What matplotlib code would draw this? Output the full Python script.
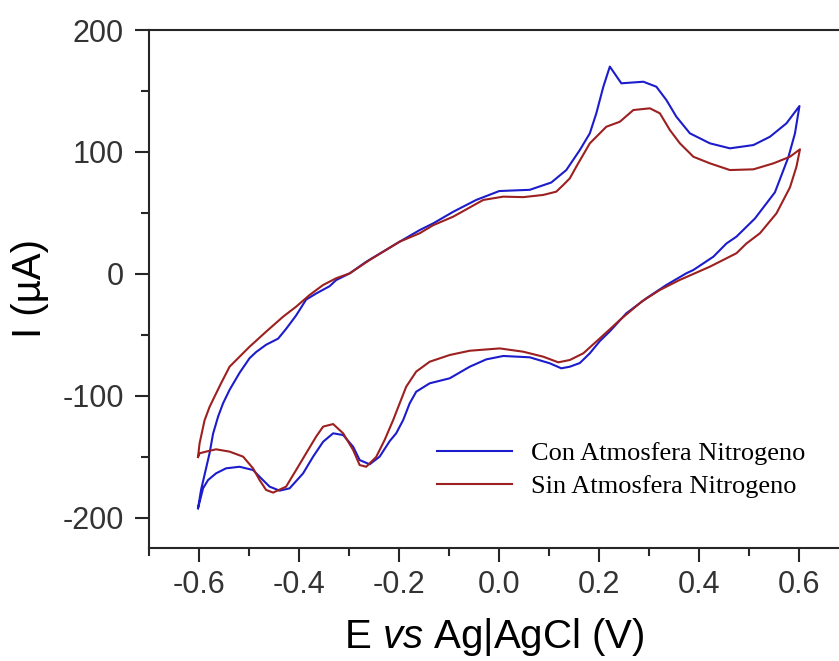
import matplotlib
matplotlib.use("Agg")
import matplotlib.pyplot as plt
from matplotlib.ticker import MultipleLocator, FormatStrFormatter

# =========================
# data
# =========================
# Con Atmosfera Nitrogeno: forward scan then reverse scan
con_E = [-0.602, -0.596, -0.579, -0.572, -0.562, -0.552, -0.539, -0.519, -0.499, -0.486,
         -0.466, -0.442, -0.426, -0.406, -0.386, -0.366, -0.339, -0.326, -0.299, -0.266,
         -0.199, -0.159, -0.132, -0.092, -0.046, 0.000, 0.061, 0.104, 0.134, 0.161,
         0.181, 0.194, 0.208, 0.221, 0.244, 0.288, 0.314, 0.334, 0.354, 0.381,
         0.421, 0.461, 0.508, 0.541, 0.574, 0.600,
         0.591, 0.578, 0.551, 0.511, 0.474, 0.454, 0.428, 0.388, 0.374, 0.334,
         0.294, 0.254, 0.221, 0.201, 0.181, 0.161, 0.141, 0.124, 0.101, 0.061,
         0.008, -0.026, -0.059, -0.099, -0.139, -0.166, -0.179, -0.192, -0.206, -0.219,
         -0.239, -0.259, -0.279, -0.292, -0.312, -0.332, -0.352, -0.372, -0.392, -0.419,
         -0.439, -0.459, -0.479, -0.492, -0.519, -0.546, -0.566, -0.582, -0.592, -0.602]
con_I = [-192, -177, -147, -131, -117, -106, -95, -81, -69, -64,
         -58, -53, -45, -34, -21, -16, -10, -5, 0.5, 10,
         26.5, 36, 41.5, 51, 60.7, 68, 69, 75, 85.2, 101.6,
         115.3, 131.7, 153.5, 170, 156.3, 157.6, 153.5, 142.6, 128.9, 115.3,
         107.1, 103, 105.7, 112.5, 123.5, 137.7,
         115.3, 96, 67, 45.5, 30.6, 25, 14.2, 3.3, 0.6, -9,
         -19.9, -32.2, -47, -55, -65, -73, -76, -77.3, -73.2, -68.3,
         -67.2, -70, -76, -85.5, -89.6, -96.5, -106, -119.7, -130.6, -137,
         -149.7, -156, -152.5, -141.6, -132, -130.6, -137.5, -149.7, -163.4, -175.7,
         -177.6, -174.3, -166.2, -160.7, -158, -159.3, -163.4, -168.9, -175.7, -192]

# Sin Atmosfera Nitrogeno
sin_E = [-0.602, -0.599, -0.589, -0.579, -0.569, -0.556, -0.539, -0.519, -0.499, -0.466,
         -0.432, -0.406, -0.379, -0.352, -0.326, -0.299, -0.259, -0.199, -0.159, -0.132,
         -0.092, -0.032, 0.008, 0.048, 0.088, 0.114, 0.128, 0.141, 0.154, 0.181,
         0.214, 0.241, 0.268, 0.301, 0.321, 0.341, 0.361, 0.388, 0.421, 0.461,
         0.508, 0.548, 0.581, 0.601,
         0.594, 0.581, 0.554, 0.521, 0.494, 0.474, 0.421, 0.360, 0.321, 0.285,
         0.241, 0.225, 0.195, 0.168, 0.141, 0.118, 0.088, 0.048, 0.001, -0.059,
         -0.099, -0.139, -0.166, -0.186, -0.199, -0.212, -0.229, -0.246, -0.266, -0.279,
         -0.292, -0.312, -0.332, -0.352, -0.366, -0.386, -0.406, -0.426, -0.452, -0.466,
         -0.479, -0.492, -0.512, -0.539, -0.566, -0.586, -0.599, -0.602]
sin_I = [-150, -139, -120, -109, -100.5, -89.6, -76, -67.8, -59.6, -47.3,
         -35, -26.8, -17.2, -9, -3.5, 0.5, 11.5, 26.5, 33.4, 40,
         47, 60.7, 63.4, 63, 64.8, 67.5, 73, 78.4, 88, 107.1,
         120.7, 124.8, 134.4, 135.8, 131.7, 118, 107.1, 96.1, 90.7, 85.2,
         85.8, 90.7, 96.1, 102.2,
         88, 71, 49.7, 33.4, 25, 17, 6, -5, -13.1, -22.5,
         -37.7, -43.8, -55, -65, -70.5, -72.4, -67.8, -63.7, -61, -62.9,
         -66.4, -71.9, -80, -92.4, -106, -119.7, -136, -150, -158, -156.6,
         -144.3, -130.6, -123, -125.1, -133.3, -147, -160.7, -174.3, -179.2, -177,
         -168.9, -159.3, -149.7, -145.6, -143.7, -145.6, -147, -150]

series_labels = ["Con Atmosfera Nitrogeno", "Sin Atmosfera Nitrogeno"]
series_colors = ["#1c1ccc", "#9c2020"]

x_ticks = [-0.6, -0.4, -0.2, 0.0, 0.2, 0.4, 0.6]
y_ticks = [-200, -100, 0, 100, 200]

# =========================
# style
# =========================
plt.rcParams["font.family"] = ["Liberation Sans", "DejaVu Sans"]
plt.rcParams["axes.unicode_minus"] = False
plt.rcParams["mathtext.fontset"] = "custom"
plt.rcParams["mathtext.rm"] = "Liberation Sans"
plt.rcParams["mathtext.it"] = "Liberation Sans:italic"

W, H = 839, 661
fig = plt.figure(figsize=(W / 100, H / 100), dpi=100)
ax = fig.add_axes([149 / W, 1 - 548 / H, (W - 149) / W, 518 / H])

ax.plot(con_E, con_I, color=series_colors[0], linewidth=1.5, label=series_labels[0])
ax.plot(sin_E, sin_I, color=series_colors[1], linewidth=1.5, label=series_labels[1])

ax.set_xlim(-0.7, (W - 499.5) / 500)
ax.set_ylim(-224.6, 200)

ax.set_xticks(x_ticks)
ax.set_yticks(y_ticks)
ax.xaxis.set_minor_locator(MultipleLocator(0.1))
ax.yaxis.set_minor_locator(MultipleLocator(50))
ax.xaxis.set_major_formatter(FormatStrFormatter("%.1f"))

spine_color = "#262626"
for side in ["left", "bottom", "top"]:
    ax.spines[side].set_linewidth(1.5)
    ax.spines[side].set_color(spine_color)
ax.spines["right"].set_visible(False)

ax.tick_params(which="major", direction="out", length=10, width=1.5, color=spine_color,
               labelsize=22, labelcolor="#333333")
ax.tick_params(which="minor", direction="out", length=6, width=1.5, color=spine_color)
ax.tick_params(axis="x", which="major", pad=6)
ax.tick_params(axis="y", which="major", pad=8)
ax.tick_params(top=False, right=False, which="both")

ax.set_xlabel(r"E $\mathit{vs}$ Ag|AgCl (V)", fontsize=29, labelpad=11)
ax.set_ylabel("I (µA)", fontsize=29, labelpad=10)

ax.legend(loc="upper left", bbox_to_anchor=(437 / W, 1 - 442 / H), bbox_transform=fig.transFigure,
          frameon=False, borderpad=0, borderaxespad=0, handlelength=2.85, handletextpad=0.7,
          labelspacing=0.35, prop={"family": "Liberation Serif", "size": 19})

fig.savefig("out.png", dpi=100)
